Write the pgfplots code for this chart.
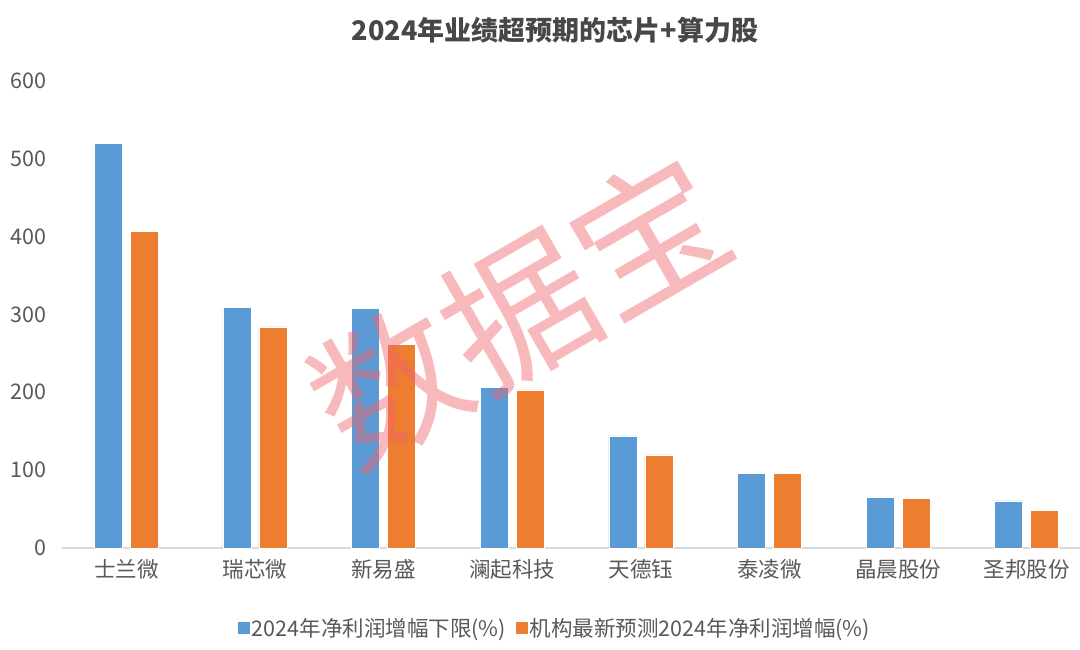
\documentclass[border=0pt]{standalone}
\usepackage{pgfplots}
\pgfplotsset{compat=1.18}
\usepackage{fontspec}
\setmainfont{Noto Sans CJK SC}
\definecolor{cblue}{HTML}{5B9BD5}
\definecolor{corange}{HTML}{ED7D31}
\definecolor{ctext}{HTML}{595959}
\definecolor{cwm}{RGB}{240,100,110}
\begin{document}
\begin{tikzpicture}[x=1pt,y=1pt]
\useasboundingbox (0,0) rectangle (1080,650);
\fill[white] (0,0) rectangle (1080,650);
\node[font=\fontsize{27}{30}\selectfont\bfseries, text=black!72] at (555,620) {2024年业绩超预期的芯片+算力股};
\begin{axis}[
  at={(62pt,102pt)}, anchor=south west,
  scale only axis, width=1029pt, height=467pt,
  ybar=8pt, bar width=28pt,
  xmin=-0.5, xmax=7.5, ymin=0, ymax=600,
  xtick={0,...,7},
  xticklabels={士兰微,瑞芯微,新易盛,澜起科技,天德钰,泰凌微,晶晨股份,圣邦股份},
  ytick={0,100,...,600},
  axis y line*=left, axis x line*=bottom,
  y axis line style={draw=none},
  x axis line style={draw=black!15, line width=1.5pt, -},
  major tick length=0pt,
  tick label style={font=\fontsize{21.5}{24}\selectfont, text=ctext},
  /pgf/number format/assume math mode=true,
  yticklabel style={anchor=east, xshift=-12pt},
  xticklabel style={yshift=-8pt},
  clip=false,
  legend style={at={(0.479,-0.172)}, anchor=center, draw=none, legend columns=2,
    font=\fontsize{21.5}{24}\selectfont, text=ctext,
    /tikz/every even column/.append style={column sep=8pt}},
  legend image code/.code={\fill[#1,draw=none] (-4pt,-6pt) rectangle (8pt,6pt);},
]
\addplot[fill=cblue, draw=white, line width=0.4pt] coordinates {
  (0,520) (1,309) (2,308) (3,206) (4,144) (5,96) (6,65.5) (7,60.4)};
\addplot[fill=corange, draw=white, line width=0.4pt] coordinates {
  (0,407) (1,284) (2,262) (3,203) (4,119.5) (5,96) (6,64) (7,48)};
\legend{2024年净利润增幅下限(\%), 机构最新预测2024年净利润增幅(\%)}
\end{axis}
\node[rotate=30, font=\fontsize{150}{150}\selectfont, text=cwm, opacity=0.45] at (519,340) {数据宝};
\end{tikzpicture}
\end{document}
